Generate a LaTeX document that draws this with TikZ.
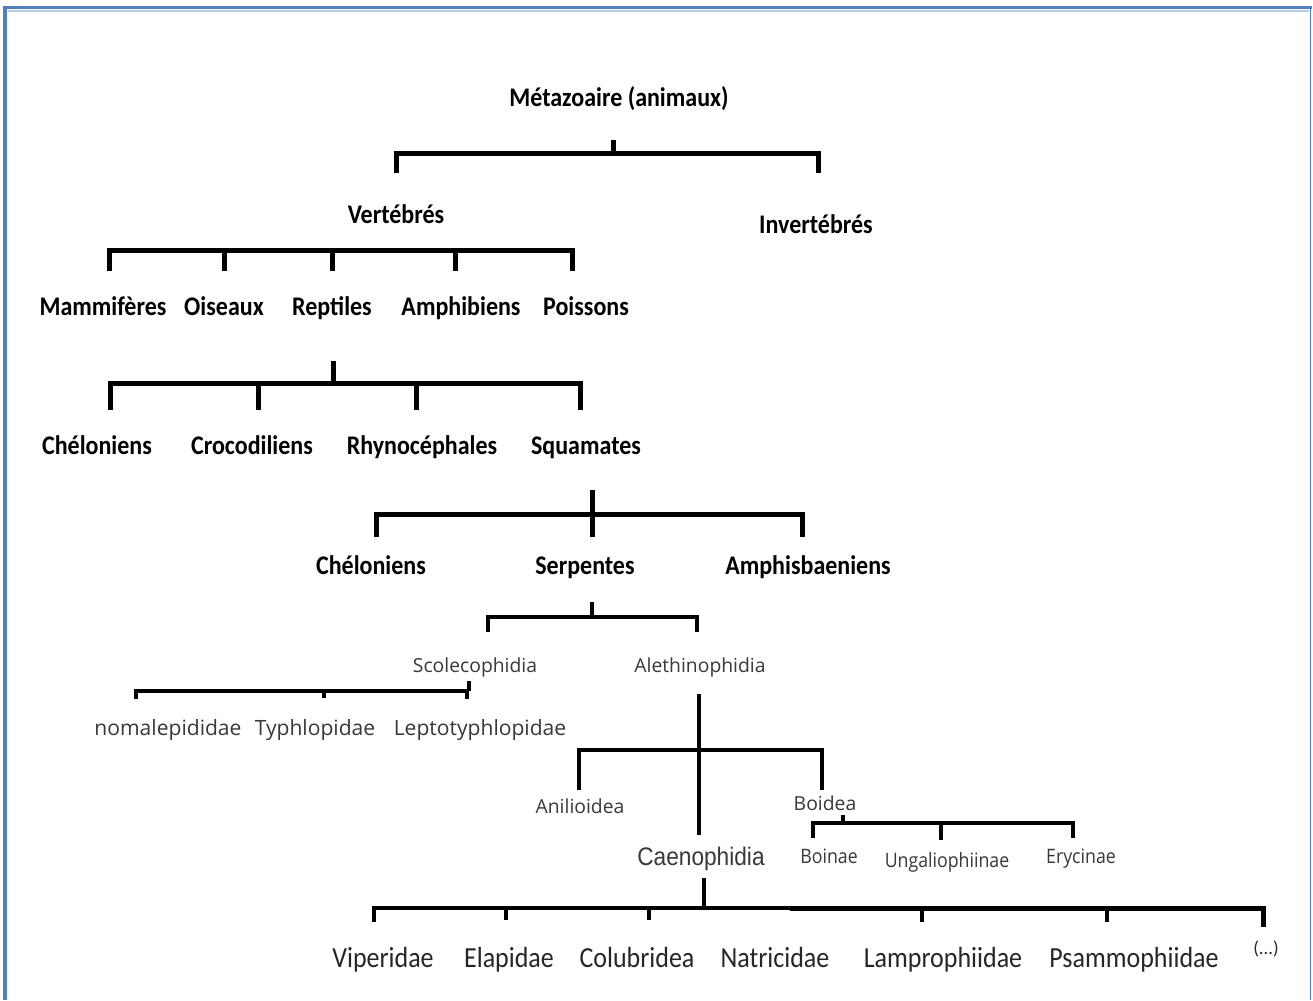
\documentclass[tikz,border=0pt]{standalone}
\usepackage{graphicx}
\usepackage{fontspec}
\setmainfont{Carlito}
\newfontfamily\osans{Open Sans}
\newfontfamily\arialf{Liberation Sans}
\definecolor{frameblue}{HTML}{4F81BD}
\definecolor{framelight}{HTML}{B8CCE4}
\definecolor{greytext}{HTML}{383838}
\definecolor{darktext}{HTML}{262626}
\newcommand\tallt[1]{\scalebox{1}[1.12]{#1}}
\begin{document}
\begin{tikzpicture}[x=0.75pt,y=-0.75pt,
  every node/.style={inner sep=0pt,anchor=base},
  lvlone/.style={font=\fontsize{18}{20}\selectfont\bfseries,text=black},
  midlbl/.style={font=\osans\fontsize{14.5}{16}\selectfont,text=greytext},
  famlbl/.style={font=\osans\fontsize{15.8}{17}\selectfont,text=greytext},
  sublbl/.style={font=\osans\fontsize{13.3}{15}\selectfont,text=greytext},
  caenolbl/.style={font=\arialf\fontsize{17}{19}\selectfont,text=greytext},
  botlbl/.style={font=\fontsize{19.5}{21}\selectfont,text=darktext},
  brthick/.style={draw=black,line width=3.75pt,line join=miter},
  brmid/.style={draw=black,line width=3pt,line join=miter},
  brthin/.style={draw=black,line width=2.6pt,line join=miter}]
\useasboundingbox (0,0) rectangle (1313,1000);
% frame
\draw[framelight,line width=1.2pt] (8,11) -- (1309,11);
\draw[frameblue,line width=2.6pt] (5,1000) -- (5,7.5) -- (1312,7.5);
\draw[frameblue,line width=1pt] (1310.5,7.5) -- (1310.5,1000);

% level labels (positions are baselines)
\node[lvlone] (meta) at (619,106) {\tallt{Métazoaire (animaux)}};
\node[lvlone] (vert) at (396,223) {\tallt{Vertébrés}};
\node[lvlone] (invert) at (816,233) {\tallt{Invertébrés}};
\node[lvlone] (mamm) at (103,315) {\tallt{Mammifères}};
\node[lvlone] (ois) at (224,315) {\tallt{Oiseaux}};
\node[lvlone] (rept) at (332,315) {\tallt{Reptiles}};
\node[lvlone] (amph) at (461,315) {\tallt{Amphibiens}};
\node[lvlone] (poiss) at (586,315) {\tallt{Poissons}};
\node[lvlone] (chel) at (97,454) {\tallt{Chéloniens}};
\node[lvlone] (croc) at (252,454) {\tallt{Crocodiliens}};
\node[lvlone] (rhyn) at (422,454) {\tallt{Rhynocéphales}};
\node[lvlone] (squam) at (586,454) {\tallt{Squamates}};
\node[lvlone] (chelb) at (371,574) {\tallt{Chéloniens}};
\node[lvlone] (serp) at (585,574) {\tallt{Serpentes}};
\node[lvlone] (amphis) at (808,574) {\tallt{Amphisbaeniens}};

\node[midlbl] (scol) at (475,672) {Scolecophidia};
\node[midlbl] (aleth) at (700,672) {Alethinophidia};
\node[famlbl] (noma) at (168,735) {nomalepididae};
\node[famlbl] (typh) at (315,735) {Typhlopidae};
\node[famlbl] (lept) at (480,735) {Leptotyphlopidae};
\node[midlbl] (anil) at (580,813) {Anilioidea};
\node[midlbl] (boid) at (825,810) {Boidea};
\node[sublbl] (boin) at (829,863) {\tallt{Boinae}};
\node[sublbl] (unga) at (947,867) {\tallt{Ungaliophiinae}};
\node[sublbl] (eryc) at (1081,863) {\tallt{Erycinae}};
\node[caenolbl] (caeno) at (701,865) {\tallt{Caenophidia}};

\node[botlbl] (vipe) at (383,967) {\tallt{Viperidae}};
\node[botlbl] (elap) at (509,967) {\tallt{Elapidae}};
\node[botlbl] (colu) at (637,967) {\tallt{Colubridea}};
\node[botlbl] (natr) at (775,967) {\tallt{Natricidae}};
\node[botlbl] (lamp) at (943,967) {\tallt{Lamprophiidae}};
\node[botlbl] (psam) at (1134,967) {\tallt{Psammophiidae}};
\node[font=\fontsize{14}{16}\selectfont,text=darktext] (etc) at (1266,954) {(...)};

% bracket 1 : Metazoaire
\draw[brthick] (613,140) -- (613,153);
\draw[brthick] (396,173) -- (396,153) -- (818,153) -- (818,173);
% bracket 2 : Vertebres
\draw[brthick] (109,271) -- (109,250) -- (572,250) -- (572,271);
\foreach \x in {224,332,455} \draw[brthick] (\x,250) -- (\x,271);
% bracket 3 : Reptiles
\draw[brthick] (333,361) -- (333,383);
\draw[brthick] (110,410) -- (110,383) -- (580,383) -- (580,410);
\foreach \x in {258,416} \draw[brthick] (\x,383) -- (\x,410);
% bracket 4 : Squamates
\draw[brthick] (592,490) -- (592,537);
\draw[brthick] (376,537) -- (376,514) -- (802,514) -- (802,537);
% bracket 5 : Serpentes
\draw[brmid] (592,602) -- (592,617);
\draw[brmid] (488,632) -- (488,617) -- (697,617) -- (697,632);
% bracket 6 : Scolecophidia
\draw[brmid] (469,681) -- (469,691);
\draw[brmid] (136,699) -- (136,691) -- (467,691) -- (467,699);
\draw[brmid] (324,691) -- (324,698);
% bracket 7 : Alethinophidia
\draw[brthin] (699,694) -- (699,835);
\draw[brthin] (579,790) -- (579,750) -- (822,750) -- (822,790);
% bracket 8 : Boidea
\draw[brthin] (843,815) -- (843,823);
\draw[brthin] (813,838) -- (813,823) -- (1073,823) -- (1073,838);
\draw[brthin] (941,823) -- (941,840);
% bracket 9 : Caenophidia
\draw[brthin] (704,878) -- (704,908);
\draw[brthin] (374,922) -- (374,908) -- (792,908);
\draw[brthick] (790,908) -- (1263,908) -- (1263,927);
\foreach \x in {506,649} \draw[brthin] (\x,908) -- (\x,920);
\foreach \x in {922,1107} \draw[brthin] (\x,908) -- (\x,922);
\end{tikzpicture}
\end{document}
